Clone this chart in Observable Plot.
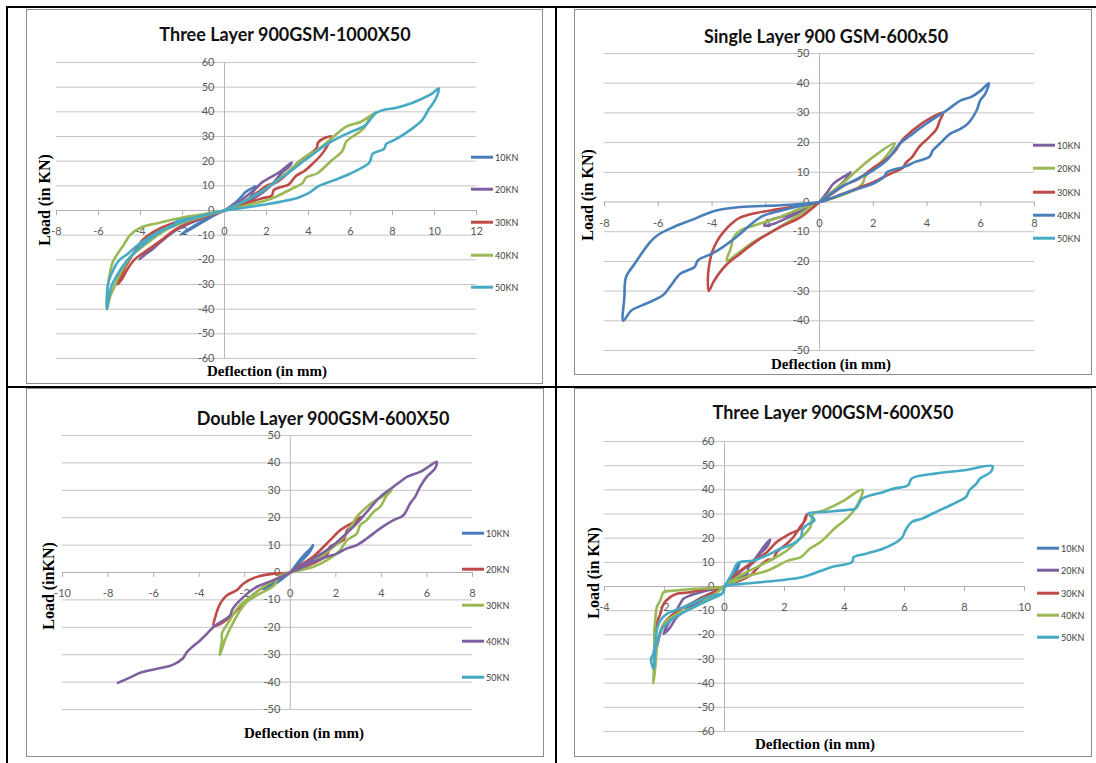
<!DOCTYPE html>
<html><head><meta charset="utf-8">
<script src="https://cdn.jsdelivr.net/npm/d3@7"></script>
<script src="https://cdn.jsdelivr.net/npm/@observablehq/plot@0.6"></script>
<style>
body{margin:0;background:#fff;}
#root{position:relative;width:1096px;height:763px;overflow:hidden;background:#fff;font-family:Lato,sans-serif;}
.line{position:absolute;background:#000;}
.frame{position:absolute;border:1px solid #8c8c8c;box-sizing:border-box;}
.title{position:absolute;font-family:Lato,"Open Sans",sans-serif;font-weight:bold;font-size:18px;color:#111;white-space:nowrap;transform:translate(-50%,-50%);}
.axt{position:absolute;font-family:"Liberation Serif","DejaVu Serif",serif;font-weight:bold;font-size:15px;color:#000;white-space:nowrap;transform:translate(-50%,-50%);}
.rot{font-size:16px;transform:translate(-50%,-50%) rotate(-90deg);}
.leg{position:absolute;font-family:Lato,sans-serif;font-size:9px;color:#404040;white-space:nowrap;transform:translateY(-50%);}
.legline{position:absolute;height:2.6px;width:22px;transform:translateY(-50%);}
</style></head><body><div id="root"></div>
<script>
// ---------- data ----------
const seriesNames = ["10KN","20KN","30KN","40KN","50KN"];
const blue = "#4A7EBB", red = "#BE4B48", green = "#98B954", purple = "#7D60A0", cyan = "#46AAC5";

const titles = ["Three Layer 900GSM-1000X50","Single Layer 900 GSM-600x50","Double Layer 900GSM-600X50","Three Layer 900GSM-600X50"];
const xTitles = ["Deflection (in mm)","Deflection (in mm)","Deflection (in mm)","Deflection (in mm)"];
const yTitles = ["Load  (in KN)","Load (in KN)","Load (inKN)","Load  (in KN)"];

const p1XTicks = [-8,-6,-4,-2,0,2,4,6,8,10,12];
const p1YTicks = [-60,-50,-40,-30,-20,-10,0,10,20,30,40,50,60];
const p2XTicks = [-8,-6,-4,-2,0,2,4,6,8];
const p2YTicks = [-50,-40,-30,-20,-10,0,10,20,30,40,50];
const p3XTicks = [-10,-8,-6,-4,-2,0,2,4,6,8];
const p3YTicks = [-50,-40,-30,-20,-10,0,10,20,30,40,50];
const p4XTicks = [-4,-2,0,2,4,6,8,10];
const p4YTicks = [-60,-50,-40,-30,-20,-10,0,10,20,30,40,50,60];

// Panel 1: Three Layer 900GSM-1000X50  [deflection mm, load kN]
const p1_10 = [[0,0],[0.5,3],[0.8,5.5],[1.0,7.5],[1.3,9],[1.5,9.8],[1.4,8],[1.2,5],[0.8,2.5],[0.4,1],[0,0],[-0.5,-2],[-1.1,-4.5],[-1.6,-7],[-2.1,-9.8],[-1.8,-8.5],[-1.3,-6],[-0.8,-3.5],[-0.3,-1.2],[0,0]];
const p1_20 = [[0,0],[0.5,2.5],[1.0,5.5],[1.5,9],[1.8,11.5],[2.2,13.5],[2.6,15.5],[2.9,17.5],[3.2,19.5],[3.1,18],[2.7,15],[2.3,11],[2,8.5],[1.6,6],[1.2,4],[0.6,2],[0,0],[-0.8,-2.5],[-1.6,-5],[-2.3,-8],[-2.8,-11],[-3.3,-14],[-3.7,-17],[-4.05,-19.8],[-3.8,-18],[-3.4,-15.5],[-3.0,-12.5],[-2.5,-9],[-1.8,-5.5],[-1,-2.5],[0,0]];
const p1_30 = [[0,0],[1,4],[1.6,7.5],[2,10],[2.5,11.5],[3,15],[3.5,19.5],[4,22.5],[4.4,25.5],[4.45,27.5],[4.8,29.5],[5.1,30],[5.0,28],[4.85,25.5],[4.6,22.5],[4.2,19],[3.8,16],[3.4,14],[3.05,10.5],[2.7,9.5],[2.35,8.3],[2.25,6],[1.8,5],[1,2.8],[0,0],[-1,-2],[-2,-4],[-3,-7],[-3.7,-10.5],[-4.05,-13.5],[-4.3,-17],[-4.6,-21],[-4.85,-25],[-5.1,-30],[-4.9,-28],[-4.6,-23.5],[-4.3,-20],[-4,-18],[-3.5,-15],[-3,-12],[-2.4,-8],[-1.6,-4.5],[-0.9,-2.3],[0,0]];
const p1_40 = [[0,0],[1,4],[2,9],[3,15.5],[3.8,21.5],[4.5,25],[5.2,30],[5.8,34],[6.5,36],[7.25,40],[6.9,37],[6.6,33],[6.1,30],[5.8,28],[5.6,24],[5.1,20.3],[4.4,15],[3.9,13.5],[3.7,11],[3.2,8.8],[2.4,5.4],[2,4.2],[1,2],[0,0],[-1,-1.5],[-2,-2.8],[-3,-4.8],[-4,-7],[-4.5,-10],[-4.8,-14],[-5.05,-17],[-5.3,-20.5],[-5.45,-25],[-5.55,-31],[-5.6,-40],[-5.45,-35],[-5.25,-31],[-5.05,-27],[-4.8,-23],[-4.5,-19],[-4.1,-16],[-3.5,-12],[-2.8,-8],[-2,-5],[-1,-2.3],[0,0]];
const p1_50 = [[0,0],[1,4],[2,9],[3,15],[4,21.5],[5,27.5],[6,31.8],[6.7,34.5],[7.2,39.5],[7.6,40.8],[8.2,41.7],[8.9,43.5],[9.4,45.3],[9.9,47.5],[10.2,49.5],[10.1,46],[9.85,42.5],[9.75,41.5],[9.4,36.5],[8.7,31.8],[8.05,28.4],[7.7,27],[7.6,25],[7.05,23],[6.95,20.3],[6.85,19],[6,15],[5.2,12.2],[4.5,10],[4,7],[3.5,5.2],[2.7,3.6],[2,2.5],[1,1.2],[0,0],[-0.8,-1.5],[-1.5,-3],[-2.3,-4.5],[-2.4,-6],[-3,-8],[-3.6,-11],[-4.2,-14.5],[-4.6,-17.5],[-5,-20],[-5.2,-22.5],[-5.4,-26],[-5.55,-30],[-5.6,-35],[-5.6,-40],[-5.5,-35],[-5.35,-30],[-5.1,-26],[-4.8,-22],[-4.4,-18],[-3.9,-14],[-3.3,-10],[-2.6,-6.5],[-1.8,-4],[-1,-2],[0,0]];

// Panel 2: Single Layer 900 GSM-600x50
const p2_10 = [[0,0],[0.3,3.4],[0.5,6],[0.8,8],[1.1,9.6],[1.15,10],[1.0,8],[0.8,6],[0.5,3.5],[0.2,1.2],[0,0],[-0.6,-2.5],[-1.2,-4.5],[-1.95,-6.5],[-2.05,-8],[-1.7,-7.3],[-1.1,-5],[-0.5,-2.5],[0,0]];
const p2_20 = [[0,0],[0.4,3],[0.8,5.8],[1.4,10.7],[2,15.2],[2.8,19.8],[2.4,14.5],[2,11],[1.7,8.5],[1.6,6.2],[1.4,4.5],[0.8,2.2],[0,0],[-0.8,-2.5],[-1.6,-5.5],[-2.4,-7.8],[-2.95,-9.6],[-3.2,-12],[-3.3,-15.5],[-3.45,-19.7],[-3.05,-17.4],[-2.55,-14],[-1.7,-9.6],[-0.7,-4],[0,0]];
const p2_30 = [[0,0],[0.5,3],[1,6],[1.4,7.5],[2,11.5],[2.5,14.5],[2.8,17],[3.05,20.5],[3.2,22],[3.8,26.4],[4.2,28.6],[4.6,30],[4.48,27.5],[4.35,24.5],[4.1,22],[3.7,18.5],[3.45,15.2],[3.2,13],[3.1,11.5],[2.7,9.8],[2.3,8],[2,6.7],[1.4,4.6],[0.8,2.5],[0,0],[-1.5,-2.4],[-2.3,-3.6],[-2.94,-5.2],[-3.3,-7.5],[-3.56,-10],[-3.8,-13],[-4.0,-17],[-4.1,-21],[-4.15,-25],[-4.12,-30],[-3.95,-27],[-3.75,-24.2],[-3.43,-20.8],[-2.95,-17.4],[-2.3,-12.9],[-1.45,-8.4],[-0.7,-5.1],[0,0]];
const p2_40 = [[0,0],[0.8,5],[1.3,7.3],[2,10.7],[2.5,14],[3,19.7],[3.4,22.5],[4,26.5],[4.74,30.9],[5.26,34.2],[5.65,35.4],[6,37.5],[6.3,40],[6.17,36.5],[5.98,34.2],[5.85,30.9],[5.52,26.4],[5.26,24.7],[4.87,23],[4.48,19.7],[4.22,17.4],[4.09,15.2],[3.56,13.5],[3.2,12],[2.52,10.1],[2.4,8.5],[2,6.2],[1.2,3.8],[0.6,1.8],[0,0],[-1.45,-1.1],[-2.94,-1.7],[-3.8,-2.8],[-4.18,-3.9],[-4.8,-6.2],[-5.42,-8.4],[-6.03,-11.2],[-6.35,-14],[-6.87,-20.7],[-7.2,-25.3],[-7.26,-32],[-7.3,-40],[-7.0,-36.5],[-6.6,-34.8],[-5.83,-31.4],[-5.57,-28.6],[-5.17,-24.1],[-4.65,-21.9],[-4.52,-19.6],[-4.0,-17.4],[-3.6,-15.2],[-3.09,-11.8],[-2.17,-5],[-1.39,-2.8],[0,0]];
const p2_50 = [];

// Panel 3: Double Layer 900GSM-600X50
const p3_10 = [[0,0],[0.3,3.3],[0.6,6.3],[0.9,8.8],[1.0,10],[0.85,7.5],[0.45,3.9],[0,0],[-0.6,-3],[-1.2,-6],[-0.8,-4.8],[-0.3,-2],[0,0]];
const p3_20 = [[0,0],[0.5,3],[1,5.7],[1.75,11.8],[2.2,15.5],[2.8,18.5],[3.1,20.3],[2.8,17.3],[2.5,15.5],[2.35,12],[2.05,10.6],[1.75,9.4],[1.6,6.3],[1,3.3],[0,0],[-0.73,-0.4],[-1.46,-1.6],[-2.05,-4],[-2.34,-6.4],[-2.78,-8.3],[-3.07,-11.3],[-3.29,-16.2],[-3.36,-19.5],[-2.92,-18],[-2.49,-15],[-1.9,-10],[-1.17,-5.2],[-0.44,-1.6],[0,0]];
const p3_30 = [[0,0],[1,4],[2,10],[2.5,14.5],[2.92,20.3],[3.3,23.5],[3.65,25.8],[4.0,27.5],[4.45,30],[4.24,28.2],[3.95,24],[3.65,22.1],[3.36,19.1],[3.07,17.3],[2.92,14.2],[2.49,11.8],[2.19,8.2],[1.61,4.5],[1.02,2.1],[0,0],[-0.5,-1.5],[-0.7,-4.6],[-1.46,-8.3],[-1.9,-10.7],[-2.19,-13.7],[-2.49,-18],[-2.78,-22.9],[-2.92,-25.9],[-3.1,-30.2],[-3.0,-24.7],[-3.0,-22.3],[-2.7,-18],[-2.27,-12.5],[-1.75,-8.9],[-1.17,-5.2],[-0.44,-1.6],[0,0]];
const p3_40 = [[0,0],[1,5],[1.75,9],[2.3,13],[2.92,17.9],[3.36,22.1],[3.95,27.6],[4.53,31.3],[4.82,33.1],[5.12,34.9],[5.7,36.7],[6.07,38.6],[6.43,40.4],[6.36,38],[5.99,34.9],[5.7,31.3],[5.48,27.6],[5.26,25.2],[4.97,20.9],[4.53,19.1],[3.95,16.1],[3.36,12.4],[2.92,10],[2.49,8.8],[2.05,6.9],[1.61,5.7],[1.02,3.9],[0.5,1.8],[0,0],[-0.73,-2.8],[-1.46,-5.2],[-2.05,-8.9],[-2.56,-13.7],[-2.63,-15.6],[-2.92,-17.4],[-3.36,-19.8],[-3.65,-22.3],[-3.95,-24.7],[-4.53,-29],[-4.72,-31.4],[-5.18,-33.8],[-5.79,-35],[-6.56,-36.5],[-7.0,-38.2],[-7.57,-40.3]];
const p3_50 = [];

// Panel 4: Three Layer 900GSM-600X50
const p4_10 = [[0,0],[0.2,4],[0.4,8.7],[0.5,10],[0.42,7],[0.25,3.5],[0,0],[-0.4,-2.5],[-0.9,-5.5],[-1.3,-9.5],[-1.1,-8],[-0.7,-5],[-0.3,-2],[0,0]];
const p4_20 = [[0,0],[0.52,6],[0.97,10.8],[1.3,16.3],[1.52,19.5],[1.41,16.3],[1.19,13.6],[0.97,10.1],[0.8,8],[0.75,5],[0.52,3.9],[0,0],[-0.59,-1.7],[-1.14,-3.7],[-1.37,-5.1],[-1.48,-7.2],[-1.7,-12],[-1.9,-16],[-2.03,-19.6],[-1.81,-16.9],[-1.59,-12.7],[-1.14,-8.6],[-0.59,-4.4],[0,0]];
const p4_30 = [[0,0],[0.41,5.3],[0.86,9.4],[1.41,14.2],[1.74,18.4],[2.19,21.9],[2.52,23.9],[2.74,30],[2.69,27.4],[2.52,24.6],[2.3,20.5],[2.08,17.7],[1.74,14.2],[1.63,11.5],[1.41,10.8],[1.13,8],[0.86,4.6],[0.52,2.5],[0,0],[-0.59,-1],[-1.14,-2.4],[-1.59,-3],[-1.81,-4.4],[-2.03,-7.2],[-2.14,-11.3],[-2.26,-15.5],[-2.31,-22.4],[-2.37,-30],[-2.26,-25.2],[-2.03,-15.5],[-1.7,-11.3],[-1.14,-7.2],[-0.59,-3.7],[0,0]];
const p4_40 = [[0,0],[0.52,4.6],[1.08,8],[1.63,11.5],[2.08,14.9],[2.52,19.8],[2.86,24.6],[2.97,30.2],[3.31,31.5],[3.9,35],[4.6,40],[4.42,33.6],[4.13,28.8],[3.66,23.9],[3.2,18.4],[2.84,15.6],[2.55,12.2],[2.14,10.8],[1.44,6.6],[0.86,4.6],[0.41,2.5],[0,0],[-1.03,-1],[-1.7,-1.7],[-2.03,-2.4],[-2.14,-5.8],[-2.26,-8.6],[-2.3,-13],[-2.34,-18.3],[-2.34,-27.9],[-2.37,-40],[-2.31,-33.5],[-2.2,-21],[-2.03,-15.5],[-1.59,-11.3],[-1.03,-8.6],[-0.47,-4.4],[0,0]];
const p4_50 = [[0,0],[0.25,5],[0.41,9.4],[0.52,10.1],[0.97,10.8],[1.41,12.9],[1.86,15.6],[2.3,17.7],[2.55,20.5],[2.6,23.5],[2.75,25.5],[3.0,27.5],[2.8,30.2],[3.3,30.8],[4.19,31.8],[4.37,32.2],[4.6,36.4],[5.3,39.1],[5.65,40.5],[6.12,41.9],[6.24,44.7],[7.06,46.8],[7.99,48.1],[8.93,49.8],[8.87,47.4],[8.52,44.7],[8.4,42.6],[8.17,39.9],[8.05,37.1],[7.76,35],[7.29,32.2],[6.94,30.2],[6.59,28.1],[6.24,26.7],[6.06,23.9],[5.89,19.8],[5.3,15.7],[4.72,13.6],[4.31,12.2],[4.25,10.1],[3.55,8],[2.61,3.9],[1.79,2.5],[0.62,1.1],[0,0],[-0.03,-2.4],[-0.59,-4.4],[-1.37,-8.6],[-1.92,-11.3],[-2.14,-14.1],[-2.26,-18.3],[-2.31,-23.8],[-2.37,-27.9],[-2.45,-30],[-2.36,-34.1],[-2.3,-25.8],[-2.07,-17.4],[-1.72,-13.3],[-1.13,-9.2],[-0.43,-5.1],[-0.08,-3],[0,0]];

const p1Colors = [blue, purple, red, green, cyan];
const p2Colors = [purple, green, red, blue, cyan];
const p3Colors = [blue, red, green, purple, cyan];
const p4Colors = [blue, purple, red, green, cyan];

// ---------- layout ----------
const root = document.getElementById("root");
function el(cls, css, text){
  const d = document.createElement("div");
  d.className = cls;
  Object.assign(d.style, css);
  if (text != null) d.textContent = text;
  root.appendChild(d);
  return d;
}

const panels = [
  {xDomain:[-8,12], yDomain:[-60,60], xTicks:p1XTicks, yTicks:p1YTicks, box:{x1:56,x2:476,y1:62,y2:358},
   series:[p1_10,p1_20,p1_30,p1_40,p1_50], colors:p1Colors,
   frame:[26,9,517,375], title:[285,34], xt:[267,371], yt:[45,200], leg:{x:471,ys:[157,189,222,255,287]}},
  {xDomain:[-8,8], yDomain:[-50,50], xTicks:p2XTicks, yTicks:p2YTicks, box:{x1:604,x2:1034,y1:53,y2:350},
   series:[p2_10,p2_20,p2_30,p2_40,p2_50], colors:p2Colors,
   frame:[574,9,518,366], title:[826,36], xt:[831,364], yt:[588,195], leg:{x:1033,ys:[145,168,192,215,238]}},
  {xDomain:[-10,8], yDomain:[-50,50], xTicks:p3XTicks, yTicks:p3YTicks, box:{x1:62,x2:472,y1:435,y2:709},
   series:[p3_10,p3_20,p3_30,p3_40,p3_50], colors:p3Colors,
   frame:[26,388,518,369], title:[323,418], xt:[304,733], yt:[49,586], leg:{x:462,ys:[533,569,605,641,677]}},
  {xDomain:[-4,10], yDomain:[-60,60], xTicks:p4XTicks, yTicks:p4YTicks, box:{x1:604,x2:1024,y1:441,y2:731},
   series:[p4_10,p4_20,p4_30,p4_40,p4_50], colors:p4Colors,
   frame:[574,388,518,369], title:[833,412], xt:[815,744], yt:[594,573], leg:{x:1037,ys:[548,570,593,615,637]}}
];

// table lines
el("line",{left:"6px",top:"6px",width:"1090px",height:"2px"});
el("line",{left:"6px",top:"6px",width:"2px",height:"757px"});
el("line",{left:"555px",top:"6px",width:"2px",height:"757px"});
el("line",{left:"6px",top:"386px",width:"1090px",height:"2px"});

panels.forEach((cfg, k) => {
  const [fx,fy,fw,fh] = cfg.frame;
  el("frame",{left:fx+"px",top:fy+"px",width:fw+"px",height:fh+"px"});

  const m = {l:45, r:45, t:25, b:30};
  const b = cfg.box;
  const w = b.x2 - b.x1 + m.l + m.r, h = b.y2 - b.y1 + m.t + m.b;
  const tickLen = 5 * (cfg.yDomain[1] - cfg.yDomain[0]) / (b.y2 - b.y1);
  const marks = [
    Plot.ruleY(cfg.yTicks.filter(d => d !== 0), {stroke:"#c4c4c4", strokeWidth:1}),
    Plot.ruleX([0], {stroke:"#b8b8b8", strokeWidth:1}),
    Plot.ruleY([0], {stroke:"#b0b0b0", strokeWidth:1}),
    Plot.ruleX(cfg.xTicks, {x:d => d, y1:0, y2:-tickLen, stroke:"#b0b0b0", strokeWidth:1}),
    Plot.text(cfg.yTicks, {x:0, y:d => d, text:d => String(d), textAnchor:"end", dx:-10, fill:"#595959", fontSize:11}),
    Plot.text(cfg.xTicks, {x:d => d, y:0, text:d => String(d), dy:21, fill:"#595959", fontSize:11})
  ];
  cfg.series.forEach((s, i) => {
    if (s.length) marks.push(Plot.line(s, {x:d => d[0], y:d => d[1], stroke:cfg.colors[i], strokeWidth:2.6, curve:"catmull-rom", strokeLinejoin:"round"}));
  });
  const svg = Plot.plot({
    width:w, height:h, marginLeft:m.l, marginRight:m.r, marginTop:m.t, marginBottom:m.b,
    x:{domain:cfg.xDomain, axis:null}, y:{domain:cfg.yDomain, axis:null},
    style:{background:"transparent", overflow:"visible", fontFamily:"Lato, sans-serif", maxWidth:"none"},
    marks
  });
  svg.style.position = "absolute";
  svg.style.left = (b.x1 - m.l) + "px";
  svg.style.top = (b.y1 - m.t) + "px";
  root.appendChild(svg);

  el("title",{left:cfg.title[0]+"px",top:cfg.title[1]+"px"}, titles[k]);
  el("axt",{left:cfg.xt[0]+"px",top:cfg.xt[1]+"px"}, xTitles[k]);
  el("axt rot",{left:cfg.yt[0]+"px",top:cfg.yt[1]+"px"}, yTitles[k]);
  seriesNames.forEach((name, i) => {
    const y = cfg.leg.ys[i];
    el("legline",{left:cfg.leg.x+"px",top:y+"px",background:cfg.colors[i]});
    el("leg",{left:(cfg.leg.x+24)+"px",top:y+"px"}, name);
  });
});
</script></body></html>
